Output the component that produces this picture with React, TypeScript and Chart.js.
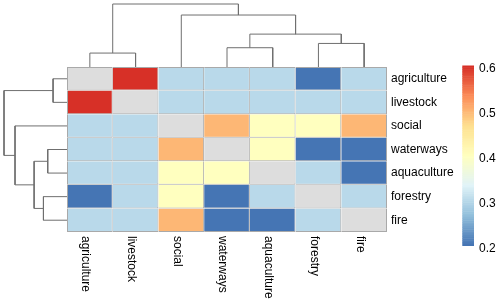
import React, { useEffect, useRef } from 'react';
import { Chart, registerables } from 'chart.js';

Chart.register(...registerables);

// ---------- data ----------
const rowLabels = ['agriculture', 'livestock', 'social', 'waterways', 'aquaculture', 'forestry', 'fire'];
const colLabels = ['agriculture', 'livestock', 'social', 'waterways', 'aquaculture', 'forestry', 'fire'];

const agricultureRow = [null, 0.6, 0.3, 0.3, 0.3, 0.2, 0.3];
const livestockRow = [0.6, null, 0.3, 0.3, 0.3, 0.3, 0.3];
const socialRow = [0.3, 0.3, null, 0.5, 0.4, 0.4, 0.5];
const waterwaysRow = [0.3, 0.3, 0.5, null, 0.4, 0.2, 0.2];
const aquacultureRow = [0.3, 0.3, 0.4, 0.4, null, 0.3, 0.2];
const forestryRow = [0.2, 0.3, 0.4, 0.2, 0.3, null, 0.3];
const fireRow = [0.3, 0.3, 0.5, 0.2, 0.2, 0.3, null];
const matrixRows: (number | null)[][] = [
  agricultureRow, livestockRow, socialRow, waterwaysRow, aquacultureRow, forestryRow, fireRow,
];

// hclust-style merges: negative = leaf (1-based display position), positive = earlier merge
const mergeA = [-1, -4, -6, 2, -3, 1];
const mergeB = [-2, -5, -7, 3, 4, 5];
const mergeHeights = [0.221, 0.306, 0.374, 0.522, 0.825, 1.0];

const legendTicks = [0.2, 0.3, 0.4, 0.5, 0.6];
const legendMin = 0.2;
const legendMax = 0.6;

// ---------- styles / layout ----------
const paletteStops = ['#4575B4', '#91BFDB', '#E0F3F8', '#FFFFBF', '#FEE090', '#FC8D59', '#D73027'];
const naColor = '#DDDDDD';
const cellBorder = '#a9a9a9';
const treeColor = '#6f6f6f';
const FONT = '12px "Liberation Sans", Arial, sans-serif';
const CANVAS_W = 500;
const CANVAS_H = 302;
const PAD = { left: 67, top: 67, right: 113, bottom: 70 };
const GRID_W = CANVAS_W - PAD.left - PAD.right;
const GRID_H = CANVAS_H - PAD.top - PAD.bottom;
const TREE_PX = 63;
const LEGEND = { left: 462.3, width: 11.7, top: 66, bottom: 246, textX: 479, textDy: 2.4 };
const COL_LABEL_BASELINE_SHIFT = 7.6;

function hexToRgb(h: string) {
  const n = parseInt(h.slice(1), 16);
  return [(n >> 16) & 255, (n >> 8) & 255, n & 255];
}
function rampColor(t: number) {
  const c = Math.max(0, Math.min(1, t));
  const seg = c * (paletteStops.length - 1);
  const i = Math.min(paletteStops.length - 2, Math.floor(seg));
  const f = seg - i;
  const a = hexToRgb(paletteStops[i]);
  const b = hexToRgb(paletteStops[i + 1]);
  const r = a.map((v, k) => Math.round(v + (b[k] - v) * f));
  return `rgb(${r[0]},${r[1]},${r[2]})`;
}
function cellColor(v: number | null) {
  if (v === null) return naColor;
  return rampColor((v - legendMin) / (legendMax - legendMin));
}

function nodePos(node: number): number {
  if (node < 0) return -node - 1 + 0.5;
  return (nodePos(mergeA[node - 1]) + nodePos(mergeB[node - 1])) / 2;
}
function nodeHeight(node: number): number {
  if (node < 0) return 0;
  return mergeHeights[node - 1];
}

function buildDatasets() {
  const ds: any[] = [];
  matrixRows.forEach((row, r) => {
    ds.push({
      type: 'bar',
      label: rowLabels[r],
      data: colLabels.map(() => [r, r + 1]),
      xAxisID: 'x',
      yAxisID: 'y',
      backgroundColor: row.map(cellColor),
      borderColor: cellBorder,
      borderWidth: (c: any) => ({ top: r === 0 ? 1 : 0, left: c.dataIndex === 0 ? 1 : 0, right: 1, bottom: 1 }),
      borderSkipped: false,
      grouped: false,
      barPercentage: 1,
      categoryPercentage: 1,
      inflateAmount: 0,
      order: 2,
    });
  });
  const lineBase = {
    type: 'line',
    borderColor: treeColor,
    borderWidth: 1,
    pointRadius: 0,
    tension: 0,
    fill: false,
    clip: false,
    borderJoinStyle: 'miter',
    order: 1,
  };
  mergeHeights.forEach((h, j) => {
    const a = mergeA[j];
    const b = mergeB[j];
    const pa = nodePos(a), pb = nodePos(b);
    const ha = nodeHeight(a), hb = nodeHeight(b);
    // column tree grows upward from the grid top
    ds.push({
      ...lineBase,
      label: 'colTree' + j,
      xAxisID: 'xd',
      yAxisID: 'yd',
      data: [
        { x: pa, y: ha },
        { x: pa, y: h },
        { x: pb, y: h },
        { x: pb, y: hb },
      ],
    });
    // row tree grows leftward from the grid's left edge (distance plotted leftwards)
    ds.push({
      ...lineBase,
      label: 'rowTree' + j,
      xAxisID: 'xl',
      yAxisID: 'yl',
      data: [
        { x: -ha, y: pa },
        { x: -h, y: pa },
        { x: -h, y: pb },
        { x: -hb, y: pb },
      ],
    });
  });
  return ds;
}

const labelsPlugin = {
  id: 'heatLabels',
  afterDraw(chart: any) {
    const ctx = chart.ctx as CanvasRenderingContext2D;
    const xs = chart.scales.x;
    const ys = chart.scales.y;
    const area = chart.chartArea;
    ctx.save();
    ctx.font = FONT;
    ctx.fillStyle = '#000';
    ctx.textAlign = 'left';
    ctx.textBaseline = 'middle';
    rowLabels.forEach((l, i) => {
      ctx.fillText(l, area.right + 4, ys.getPixelForValue(i + 0.5));
    });
    ctx.textBaseline = 'alphabetic';
    colLabels.forEach((l, i) => {
      const px = xs.getPixelForValue(i);
      ctx.save();
      ctx.translate(px, area.bottom + 4);
      ctx.rotate(Math.PI / 2);
      ctx.fillText(l, 0, COL_LABEL_BASELINE_SHIFT);
      ctx.restore();
    });
    // colour legend
    const n = 100;
    const hStep = (LEGEND.bottom - LEGEND.top) / n;
    for (let k = 0; k < n; k++) {
      ctx.fillStyle = rampColor(k / (n - 1));
      const yb = LEGEND.bottom - k * hStep;
      ctx.fillRect(LEGEND.left, yb - hStep - 0.5, LEGEND.width, hStep + 0.5);
    }
    ctx.fillStyle = '#000';
    ctx.textBaseline = 'middle';
    legendTicks.forEach((t) => {
      const yy = LEGEND.bottom - ((t - legendMin) / (legendMax - legendMin)) * (LEGEND.bottom - LEGEND.top);
      ctx.fillText(t.toFixed(1), LEGEND.textX, yy + LEGEND.textDy);
    });
    ctx.restore();
  },
};

export default function App() {
  const ref = useRef<HTMLCanvasElement>(null);
  useEffect(() => {
    if (!ref.current) return;
    const chart = new Chart(ref.current, {
      type: 'bar',
      data: { labels: colLabels, datasets: buildDatasets() },
      options: {
        responsive: false,
        animation: false,
        events: [],
        layout: { padding: PAD },
        plugins: { legend: { display: false }, tooltip: { enabled: false } },
        scales: {
          x: { type: 'category', display: false, offset: true },
          y: { type: 'linear', display: false, min: 0, max: rowLabels.length, reverse: true, offset: false },
          xd: { type: 'linear', axis: 'x', position: 'bottom', display: false, offset: false, min: 0, max: colLabels.length },
          yd: { type: 'linear', axis: 'y', position: 'left', display: false, offset: false, min: -GRID_H / TREE_PX, max: 0 },
          xl: { type: 'linear', axis: 'x', position: 'bottom', display: false, offset: false, min: 0, max: GRID_W / TREE_PX },
          yl: { type: 'linear', axis: 'y', position: 'left', display: false, offset: false, min: 0, max: rowLabels.length, reverse: true },
        },
      } as any,
      plugins: [labelsPlugin],
    });
    return () => chart.destroy();
  }, []);
  return (
    <div style={{ position: 'absolute', left: 0, top: 0, width: CANVAS_W, height: CANVAS_H, background: '#fff' }}>
      <canvas ref={ref} width={CANVAS_W} height={CANVAS_H} style={{ display: 'block' }} />
    </div>
  );
}
